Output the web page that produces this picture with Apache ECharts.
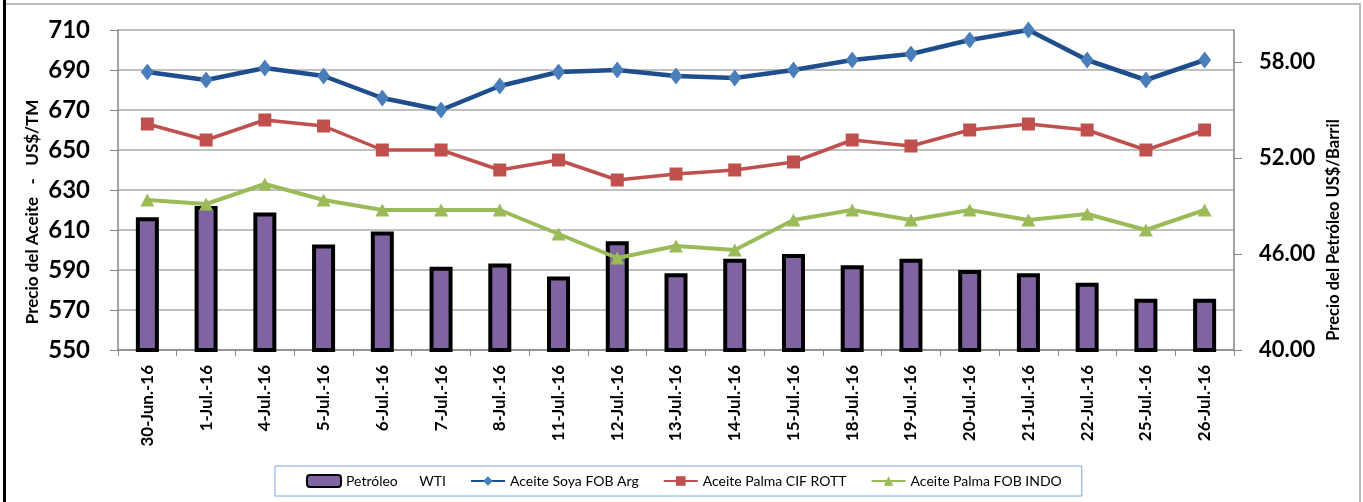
<!DOCTYPE html>
<html>
<head>
<meta charset="utf-8">
<script src="https://cdn.jsdelivr.net/npm/echarts@6/dist/echarts.min.js"></script>
<style>
  html, body { margin: 0; padding: 0; background: #fff; }
  #chart { width: 1363px; height: 502px; }
</style>
</head>
<body>
<div id="chart"></div>
<script>
const categories = ['30-Jun.-16','1-Jul.-16','4-Jul.-16','5-Jul.-16','6-Jul.-16','7-Jul.-16','8-Jul.-16','11-Jul.-16','12-Jul.-16','13-Jul.-16','14-Jul.-16','15-Jul.-16','18-Jul.-16','19-Jul.-16','20-Jul.-16','21-Jul.-16','22-Jul.-16','25-Jul.-16','26-Jul.-16'];
const petroleoWTI = [48.3, 49.0, 48.6, 46.6, 47.4, 45.2, 45.4, 44.6, 46.8, 44.8, 45.7, 46.0, 45.3, 45.7, 45.0, 44.8, 44.2, 43.2, 43.2];
const soyaFOBArg = [689, 685, 691, 687, 676, 670, 682, 689, 690, 687, 686, 690, 695, 698, 705, 710, 695, 685, 695];
const palmaCIFRott = [663, 655, 665, 662, 650, 650, 640, 645, 635, 638, 640, 644, 655, 652, 660, 663, 660, 650, 660];
const palmaFOBIndo = [625, 623, 633, 625, 620, 620, 620, 608, 596, 602, 600, 615, 620, 615, 620, 615, 618, 610, 620];
const leftTicks = [550, 570, 590, 610, 630, 650, 670, 690, 710];
const rightTicks = [40, 46, 52, 58];
const seriesNames = ['Petróleo      WTI', 'Aceite Soya FOB Arg', 'Aceite Palma CIF ROTT', 'Aceite Palma FOB INDO'];
const leftTitle = 'Precio del Aceite   -   US$/TM';
const rightTitle = 'Precio del Petróleo US$/Barril';

const FONT = 'Lato, "Open Sans", sans-serif';
const chart = echarts.init(document.getElementById('chart'), null, { renderer: 'canvas' });
chart.setOption({
  animation: false,
  backgroundColor: '#ffffff',
  textStyle: { fontFamily: FONT },
  grid: { left: 118, right: 129, top: 30, bottom: 152, containLabel: false },
  legend: {
    left: 275, top: 466,
    padding: [8, 20, 8, 31],
    borderColor: '#7EA6E0', borderWidth: 1,
    itemGap: 24, itemWidth: 34, itemHeight: 12,
    textStyle: { fontFamily: FONT, fontSize: 14, color: '#000' },
    data: seriesNames
  },
  graphic: [
    { type: 'rect', shape: { x: 5, y: 4, width: 1355, height: 520 }, style: { fill: 'none', stroke: '#A6A6A6', lineWidth: 1.5 }, silent: true },
    { type: 'line', shape: { x1: 4.5, y1: 0, x2: 4.5, y2: 502 }, style: { stroke: '#000', lineWidth: 3 }, silent: true },
    { type: 'text', x: 33, y: 212, rotation: Math.PI / 2, style: { text: leftTitle, font: 'bold 17px ' + FONT, fill: '#000', align: 'center', verticalAlign: 'middle' } },
    { type: 'text', x: 1334, y: 230, rotation: Math.PI / 2, style: { text: rightTitle, font: 'bold 16.5px ' + FONT, fill: '#000', align: 'center', verticalAlign: 'middle' } }
  ],
  xAxis: {
    type: 'category',
    data: categories,
    boundaryGap: true,
    axisLine: { lineStyle: { color: '#868686', width: 1.5 } },
    axisTick: { show: true, length: 6, lineStyle: { color: '#868686' } },
    axisLabel: { rotate: 90, margin: 15, color: '#000', fontWeight: 'bold', fontSize: 17, fontFamily: FONT }
  },
  yAxis: [
    {
      type: 'value', min: 550, max: 710, position: 'left',
      axisLine: { show: true, lineStyle: { color: '#868686', width: 1.5 } },
      axisTick: { show: true, length: 8, customValues: leftTicks, lineStyle: { color: '#868686' } },
      axisLabel: { customValues: leftTicks, margin: 28, color: '#000', fontWeight: 'bold', fontSize: 24, fontFamily: FONT },
      splitLine: { show: true, lineStyle: { color: '#ABABAB', width: 1.5 } }
    },
    {
      type: 'value', min: 40, max: 60, position: 'right',
      axisLine: { show: true, lineStyle: { color: '#868686', width: 1.5 } },
      axisTick: { show: true, length: 8, customValues: rightTicks, lineStyle: { color: '#868686' } },
      axisLabel: { customValues: rightTicks, margin: 25, color: '#000', fontWeight: 'bold', fontSize: 22, fontFamily: FONT, formatter: v => v.toFixed(2) },
      splitLine: { show: false }
    }
  ],
  series: [
    {
      name: seriesNames[0], type: 'bar', yAxisIndex: 1, data: petroleoWTI,
      barWidth: 23,
      itemStyle: { color: '#8064A2', borderColor: '#000', borderWidth: 4 },
      z: 1
    },
    {
      name: seriesNames[1], type: 'line', yAxisIndex: 0, data: soyaFOBArg,
      symbol: 'diamond', symbolSize: [13, 17],
      lineStyle: { color: '#1F4E8C', width: 4.5 },
      itemStyle: { color: '#4A7EBB', borderWidth: 0 },
      z: 3
    },
    {
      name: seriesNames[2], type: 'line', yAxisIndex: 0, data: palmaCIFRott,
      symbol: 'rect', symbolSize: 13,
      lineStyle: { color: '#C0504D', width: 3.5 },
      itemStyle: { color: '#C0504D', borderWidth: 0 },
      z: 3
    },
    {
      name: seriesNames[3], type: 'line', yAxisIndex: 0, data: palmaFOBIndo,
      symbol: 'triangle', symbolSize: [14, 13],
      lineStyle: { color: '#9BBB59', width: 4 },
      itemStyle: { color: '#9BBB59', borderWidth: 0 },
      z: 3
    }
  ]
});
</script>
</body>
</html>
